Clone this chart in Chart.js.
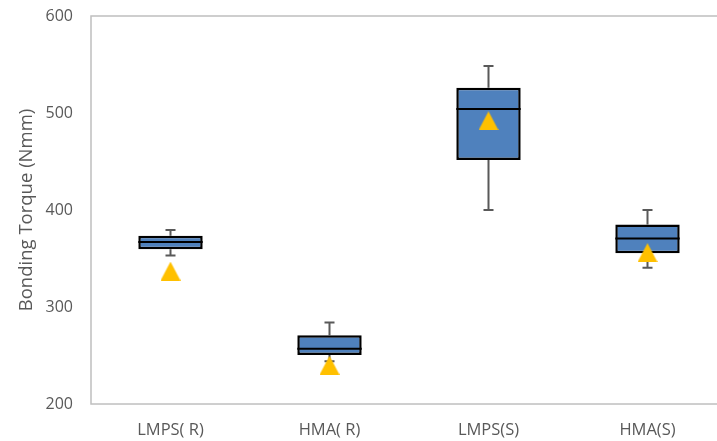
<!DOCTYPE html>
<html>
<head>
<meta charset="utf-8">
<script src="https://cdn.jsdelivr.net/npm/chart.js@4.4.1/dist/chart.umd.min.js"></script>
<style>
  html, body { margin: 0; padding: 0; background: #fff; overflow: hidden; width: 717px; height: 441px; }
  #wrap { position: absolute; left: 0; top: 0; width: 717px; height: 441px; overflow: hidden; }
  canvas { display: block; }
</style>
</head>
<body>
<div id="wrap"><canvas id="c" width="740" height="441"></canvas></div>
<script>
// Box-plot statistics per group (Nmm)
const categories = ['LMPS( R)', 'HMA( R)', 'LMPS(S)', 'HMA(S)'];
const minimums   = [353, 244, 400, 340.5];
const quartile1  = [359.5, 250.5, 451.5, 355.5];
const medians    = [367, 257, 504, 370.5];
const quartile3  = [373.5, 271, 526, 385];
const maximums   = [379.5, 284, 548.5, 400];
const means      = [337, 240, 492, 356];
const yTicks     = [200, 300, 400, 500, 600];

const FONT = '"Open Sans", sans-serif';
const TEXT = '#595959';

// Mean marker: a filled triangle centred on its bounding box
const tri = document.createElement('canvas');
tri.width = 20; tri.height = 19;
(function () {
  const t = tri.getContext('2d');
  t.fillStyle = '#ffc000';
  t.beginPath();
  t.moveTo(10, 0); t.lineTo(20, 19); t.lineTo(0, 19); t.closePath();
  t.fill();
})();

// Whiskers, medians and the plot-area frame
const boxExtras = {
  id: 'boxExtras',
  beforeDatasetsDraw(chart) {
    const { ctx, chartArea: a, scales: { x, y } } = chart;
    ctx.save();
    ctx.strokeStyle = '#bfbfbf';
    ctx.lineWidth = 1.5;
    ctx.strokeRect(a.left, a.top, a.right - a.left, a.bottom - a.top);

    ctx.strokeStyle = '#595959';
    ctx.lineWidth = 2;
    const cap = 5;
    categories.forEach((c, i) => {
      const cx = x.getPixelForValue(i);
      [[quartile3[i], maximums[i]], [quartile1[i], minimums[i]]].forEach(([from, to]) => {
        const y0 = y.getPixelForValue(from), y1 = y.getPixelForValue(to);
        ctx.beginPath();
        ctx.moveTo(cx, y0); ctx.lineTo(cx, y1);
        ctx.moveTo(cx - cap, y1); ctx.lineTo(cx + cap, y1);
        ctx.stroke();
      });
    });
    ctx.restore();
  },
  afterDatasetDraw(chart, args) {
    if (args.index !== 0) return;
    const { ctx, scales: { y } } = chart;
    const meta = chart.getDatasetMeta(0);
    ctx.save();
    ctx.strokeStyle = '#000';
    ctx.lineWidth = 2;
    meta.data.forEach((bar, i) => {
      const py = y.getPixelForValue(medians[i]);
      ctx.beginPath();
      ctx.moveTo(bar.x - bar.width / 2, py);
      ctx.lineTo(bar.x + bar.width / 2, py);
      ctx.stroke();
    });
    ctx.restore();
  }
};

new Chart(document.getElementById('c'), {
  type: 'bar',
  data: {
    labels: categories,
    datasets: [
      {
        label: 'IQR',
        data: quartile1.map((q, i) => [q, quartile3[i]]),
        backgroundColor: '#4f81bd',
        borderColor: '#000',
        borderWidth: 2.5,
        borderSkipped: false,
        categoryPercentage: 1,
        barPercentage: 0.405,
        order: 2
      },
      {
        type: 'line',
        label: 'Mean',
        data: means,
        showLine: false,
        pointStyle: tri,
        pointRadius: 10,
        order: 1
      }
    ]
  },
  options: {
    responsive: false,
    animation: false,
    layout: { padding: { left: 0, right: 13, top: 16, bottom: 0 } },
    plugins: { legend: { display: false }, tooltip: { enabled: false } },
    scales: {
      x: {
        grid: { display: false, drawTicks: false },
        border: { display: false },
        ticks: { color: TEXT, font: { family: FONT, size: 16.5 }, padding: 16 },
        afterFit(s) { s.height = 37; s.paddingLeft = 0; s.paddingRight = 0; }
      },
      y: {
        min: 200,
        max: 600,
        afterBuildTicks(s) { s.ticks = yTicks.map(v => ({ value: v })); },
        grid: { display: false, drawTicks: false },
        border: { display: false },
        ticks: { color: TEXT, font: { family: FONT, size: 16 }, padding: 18 },
        title: {
          display: true,
          text: 'Bonding Torque (Nmm)',
          color: TEXT,
          font: { family: FONT, size: 18.5 },
          padding: { top: 16, bottom: 0 }
        },
        afterFit(s) { s.width = 91; s.paddingTop = 0; s.paddingBottom = 0; }
      }
    }
  },
  plugins: [boxExtras]
});
</script>
</body>
</html>
